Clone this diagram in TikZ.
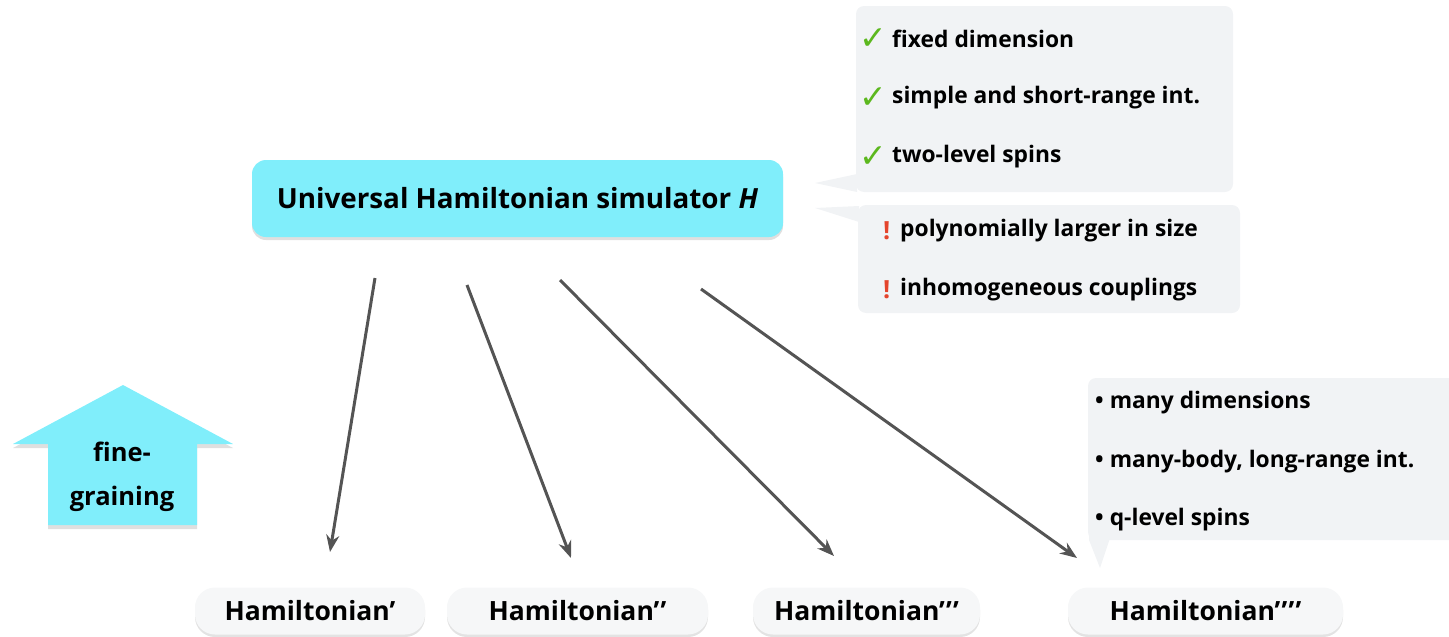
\documentclass[tikz,border=0pt]{standalone}
\usepackage{fontspec}
\setmainfont{Open Sans}
\newfontfamily\symfont{DejaVu Sans}
\usetikzlibrary{arrows.meta,shadows}
\definecolor{cyanfill}{HTML}{80EEFB}
\definecolor{notefill}{HTML}{F1F3F5}
\definecolor{pillfill}{HTML}{F6F7F8}
\definecolor{arrowgray}{HTML}{545454}
\definecolor{checkgreen}{HTML}{5CB81E}
\definecolor{bangred}{HTML}{E4442C}
\newcommand{\pr}{’\kern1.2pt}
\begin{document}
\begin{tikzpicture}[x=1pt,y=-1pt,
  mainbox/.style={fill=cyanfill, rounded corners=14pt, minimum width=531pt, minimum height=77pt,
    font=\fontsize{27.8}{32}\selectfont\bfseries, inner sep=0pt,
    drop shadow={opacity=0.25, shadow xshift=0pt, shadow yshift=-3pt}},
  pill/.style={fill=pillfill, rounded corners=20pt, minimum height=47pt, inner sep=0pt,
    font=\fontsize{26.5}{30}\selectfont\bfseries,
    drop shadow={opacity=0.22, shadow xshift=0pt, shadow yshift=-2.5pt}},
  note/.style={fill=notefill},
  item/.style={anchor=west, inner sep=0pt, font=\fontsize{22.8}{27}\selectfont\bfseries},
  signnode/.style={anchor=west, inner sep=0pt},
  checkfont/.style={text=checkgreen, font=\symfont\fontsize{33}{36}\selectfont},
  bangfont/.style={text=bangred, font=\fontsize{25}{28}\selectfont\bfseries},
  link/.style={draw=arrowgray, line width=3pt, -{Stealth[length=17pt,width=13pt]}},
]
\useasboundingbox (0,0) rectangle (1449,637);

% upper callouts
\fill[note, rounded corners=8pt] (856,6) rectangle (1233,192);
\fill[note] (857,174) -- (815,183) -- (857,192) -- cycle;
\fill[note, rounded corners=8pt] (858,205) rectangle (1240,313);
\fill[note] (859,206) -- (815,208) -- (859,222) -- cycle;

% lower callout
\fill[note, rounded corners=8pt] (1088,378) rectangle (1470,540);
\fill[note] (1089,530) -- (1089,540) -- (1100,568) -- (1110,538) -- cycle;

% main simulator node
\node[mainbox] (sim) at (517.5,198.5) {Universal Hamiltonian simulator \textit{H}};

% callout texts
\node[signnode, checkfont] (c1) at (859,39) {✓};
\node[item] (t1) at (892,39) {fixed dimension};
\node[signnode, checkfont] (c2) at (859,98) {✓};
\node[item] (t2) at (892,98) {simple and short-range int.};
\node[signnode, checkfont] (c3) at (859,157) {✓};
\node[item] (t3) at (892,157) {two-level spins};

\node[signnode, bangfont] (b1) at (883,231) {!};
\node[item] (t4) at (900,231) {polynomially larger in size};
\node[signnode, bangfont] (b2) at (883,290) {!};
\node[item] (t5) at (900,290) {inhomogeneous couplings};

\node[item] (t6) at (1095,403) {•\hspace{6pt}many dimensions};
\node[item] (t7) at (1095,462) {•\hspace{6pt}many-body, long-range int.};
\node[item] (t8) at (1095,520) {•\hspace{6pt}q-level spins};

% fine-graining arrow
\fill[cyanfill, drop shadow={opacity=0.25, shadow xshift=0pt, shadow yshift=-4pt}]
  (123,385) -- (233,444) -- (197,444) -- (197,525) -- (48,525) -- (48,444) -- (13,444) -- cycle;
\node[align=center, font=\fontsize{25.5}{44}\selectfont\bfseries] (fg) at (122,477) {fine-\\graining};

% derived Hamiltonians
\node[pill, minimum width=230pt] (h1) at (310,611) {Hamiltonian’};
\node[pill, minimum width=261pt] (h2) at (577.5,611) {Hamiltonian\pr’};
\node[pill, minimum width=227pt] (h3) at (866.5,611) {Hamiltonian\pr\pr’};
\node[pill, minimum width=275pt] (h4) at (1205.5,611) {Hamiltonian\pr\pr\pr’};

% arrows from the simulator down to each Hamiltonian
\coordinate (s1) at (375,278);
\coordinate (s2) at (467,285);
\coordinate (s3) at (560,280);
\coordinate (s4) at (701,289);
\coordinate (e1) at (330,552);
\coordinate (e2) at (571,558);
\coordinate (e3) at (834,556);
\coordinate (e4) at (1077,558);
\draw[link] (s1) -- (e1);
\draw[link] (s2) -- (e2);
\draw[link] (s3) -- (e3);
\draw[link] (s4) -- (e4);
\end{tikzpicture}
\end{document}
